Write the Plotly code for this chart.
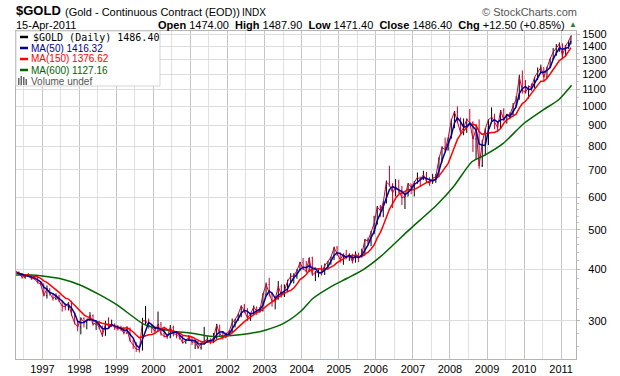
import numpy as np
import pandas as pd
import plotly.graph_objects as go

# ---------------- data (monthly bars) ----------------
open_ = [395, 393, 391, 383, 386, 387, 380, 380, 372,                      # 1996 Apr-Dec
         369, 346, 359, 350, 340, 345, 335, 326, 325, 332, 311, 296,       # 1997
         290, 304, 298, 301, 309, 294, 297, 289, 276, 295, 292, 294,       # 1998
         289, 287, 287, 280, 287, 268, 262, 256, 255, 300, 300, 292,       # 1999
         289, 283, 294, 279, 275, 274, 289, 279, 278, 274, 265, 269,       # 2000
         273, 266, 267, 258, 264, 268, 270, 266, 273, 293, 279, 274,       # 2001
         279, 282, 297, 302, 311, 326, 318, 305, 312, 324, 317, 318,       # 2002
         348, 368, 348, 335, 339, 364, 347, 355, 375, 385, 386, 398,       # 2003
         416, 402, 396, 427, 388, 394, 395, 391, 410, 418, 429, 452,       # 2004
         438, 423, 436, 428, 436, 418, 436, 430, 434, 473, 470, 495,       # 2005
         518, 569, 557, 583, 654, 644, 616, 636, 625, 599, 604, 648,       # 2006
         636, 652, 672, 663, 682, 657, 650, 668, 674, 745, 795, 784,       # 2007
         838, 926, 971, 918, 864, 888, 929, 914, 833, 881, 717, 815,       # 2008
         883, 928, 942, 917, 888, 978, 927, 954, 955, 1003, 1040, 1180,    # 2009
         1096, 1081, 1119, 1113, 1179, 1212, 1244, 1180, 1248, 1307, 1357, 1385,  # 2010
         1421, 1333, 1409, 1439]                                            # 2011 Jan-Apr
high = [397, 396, 392, 390, 392, 389, 386, 385, 375,
        370, 366, 360, 350, 350, 347, 336, 331, 333, 336, 314, 298,
        306, 306, 302, 315, 311, 300, 300, 292, 300, 306, 302, 296,
        293, 292, 290, 291, 289, 270, 266, 259, 305, 326, 304, 294,
        292, 316, 298, 290, 278, 293, 292, 281, 280, 276, 270, 277,
        274, 270, 268, 266, 290, 275, 272, 280, 295, 293, 283, 281,
        284, 304, 303, 312, 327, 330, 322, 314, 327, 325, 324, 350,
        372, 382, 352, 342, 375, 368, 368, 378, 392, 392, 401, 418,
        427, 420, 428, 430, 397, 400, 410, 414, 420, 430, 455, 457,
        441, 438, 447, 438, 437, 443, 440, 450, 475, 479, 497, 541,
        572, 575, 587, 660, 717, 650, 665, 663, 640, 612, 650, 648,
        658, 690, 674, 697, 692, 672, 685, 685, 752, 799, 840, 840,
        933, 975, 1001, 940, 935, 935, 986, 920, 905, 930, 830, 885,
        930, 995, 960, 917, 980, 990, 960, 968, 1020, 1060, 1195, 1225,
        1160, 1125, 1138, 1180, 1245, 1265, 1245, 1250, 1310, 1388, 1420, 1432,
        1424, 1412, 1448, 1488]
low = [391, 389, 380, 380, 385, 378, 378, 370, 366,
       344, 340, 346, 336, 337, 334, 316, 318, 318, 308, 294, 283,
       278, 289, 286, 300, 292, 285, 286, 274, 276, 287, 290, 285,
       284, 283, 278, 279, 267, 256, 252, 251, 254, 294, 287, 280,
       280, 282, 276, 273, 271, 272, 275, 272, 270, 264, 264, 268,
       262, 256, 256, 255, 263, 265, 263, 265, 271, 275, 270, 272,
       277, 280, 289, 300, 306, 313, 300, 300, 310, 310, 314, 316,
       345, 344, 325, 320, 338, 342, 343, 352, 371, 370, 380, 397,
       399, 393, 395, 387, 375, 383, 387, 388, 400, 411, 422, 432,
       416, 411, 424, 420, 414, 416, 417, 429, 433, 461, 456, 488,
       515, 538, 537, 580, 638, 565, 603, 613, 575, 562, 604, 611,
       603, 648, 637, 662, 652, 640, 648, 651, 672, 730, 775, 781,
       835, 885, 911, 857, 851, 862, 910, 775, 740, 705, 712, 760,
       805, 915, 880, 866, 883, 920, 908, 935, 952, 1000, 1040, 1075,
       1075, 1045, 1090, 1110, 1160, 1200, 1155, 1175, 1245, 1305, 1330, 1360,
       1310, 1325, 1383, 1417]
close = [393, 391, 383, 386, 387, 380, 380, 372, 369,
         346, 359, 350, 340, 345, 335, 326, 325, 332, 311, 296, 290,
         304, 298, 301, 309, 294, 297, 289, 276, 295, 292, 294, 289,
         287, 287, 280, 287, 268, 262, 256, 255, 300, 300, 292, 289,
         283, 294, 279, 275, 274, 289, 279, 278, 274, 265, 269, 273,
         266, 267, 258, 264, 268, 270, 266, 273, 293, 279, 274, 279,
         282, 297, 302, 311, 326, 318, 305, 312, 324, 317, 318, 348,
         368, 348, 335, 339, 364, 347, 355, 375, 385, 386, 398, 416,
         402, 396, 427, 388, 394, 395, 391, 410, 418, 429, 452, 438,
         423, 436, 428, 436, 418, 436, 430, 434, 473, 470, 495, 518,
         569, 557, 583, 654, 644, 616, 636, 625, 599, 604, 648, 636,
         652, 672, 663, 682, 657, 650, 668, 674, 745, 795, 784, 838,
         926, 971, 918, 864, 888, 929, 914, 833, 881, 717, 815, 883,
         928, 942, 917, 888, 978, 927, 954, 955, 1003, 1040, 1180, 1096,
         1081, 1119, 1113, 1179, 1212, 1244, 1180, 1248, 1307, 1357, 1385, 1421,
         1333, 1409, 1439, 1486.4]

# MA(600) (smooth green line)
ma600_dates = ["1996-04-16", "1996-09-01", "1997-01-01", "1997-07-01", "1998-01-07",
               "1998-07-22", "1999-01-07", "1999-09-20", "2000-01-07", "2000-07-12",
               "2001-01-04", "2001-07-12", "2002-01-15", "2002-07-20", "2003-01-15",
               "2003-07-20", "2004-01-01", "2004-04-20", "2004-10-05", "2005-03-24",
               "2005-08-30", "2006-02-10", "2006-07-01", "2006-11-25", "2007-08-24",
               "2008-02-05", "2008-08-05", "2008-12-15", "2009-06-10", "2010-01-01",
               "2010-07-08", "2010-12-05", "2011-04-15"]
ma600_vals = [388, 388, 386, 380, 367, 347, 328, 295, 289, 283,
              280, 275, 276, 279, 285, 297, 318, 340, 362, 381,
              400, 429, 462, 500, 575, 637, 733, 762, 813, 910,
              981, 1037, 1127.16]

y_tick_vals = [300, 400, 500, 600, 700, 800, 900, 1000, 1100, 1200, 1300, 1400, 1500]
y_tick_labels = ["300", "400", "500", "600", "700", "800", "900", "1000",
                 "1100", "1200", "1300", "1400", "1500"]
year_labels = [str(y) for y in range(1997, 2012)]

# ---------------- derived ----------------
dates = list(pd.date_range("1996-04-01", "2011-04-01", freq="MS") + pd.Timedelta(days=14))
dates[0] = pd.Timestamp("1996-04-24")
dates[-1] = pd.Timestamp("2011-04-08")
cs = pd.Series(close, dtype=float)
ma50 = cs.rolling(3, min_periods=1).mean()
ma150 = cs.rolling(8, min_periods=1).mean()

# right-align the value labels (pad 3-digit labels with a figure space)
y_tick_text = [("\u2007" + t) if len(t) < 4 else t for t in y_tick_labels]

# ---------------- geometry helpers ----------------
W, H = 620, 376
L, R, T, B = 16, 576, 31, 359
def px(x): return (x - L) / (R - L)
def py(y): return (B - y) / (B - T)

FONT = "Liberation Sans, Arial, sans-serif"

fig = go.Figure()
# thin close-to-close trace so the price reads as one continuous series
fig.add_trace(go.Scatter(x=dates, y=close, mode="lines",
                         line=dict(color="#cc0033", width=1),
                         hoverinfo="skip", showlegend=False))
fig.add_trace(go.Ohlc(x=dates, open=open_, high=high, low=low, close=close,
                      increasing=dict(line=dict(color="#000000", width=1)),
                      decreasing=dict(line=dict(color="#cc0033", width=1)),
                      tickwidth=0.3, hoverinfo="skip", showlegend=False))
fig.add_trace(go.Scatter(x=pd.to_datetime(ma600_dates), y=ma600_vals, mode="lines",
                         line=dict(color="#006400", width=1.5, shape="spline", smoothing=0.6),
                         hoverinfo="skip", showlegend=False))
fig.add_trace(go.Scatter(x=dates, y=ma150, mode="lines",
                         line=dict(color="#ff0000", width=1.5),
                         hoverinfo="skip", showlegend=False))
fig.add_trace(go.Scatter(x=dates, y=ma50, mode="lines",
                         line=dict(color="#000099", width=1.5),
                         hoverinfo="skip", showlegend=False))

shapes = []
# legend box
shapes.append(dict(type="rect", xref="paper", yref="paper", x0=px(16), x1=px(160),
                   y0=py(86), y1=py(31), fillcolor="white",
                   line=dict(color="#d4d4d4", width=1), layer="above"))
leg = [("#000000", 37), ("#000099", 48), ("#ff0000", 59), ("#006400", 70)]
for col, yy in leg:
    shapes.append(dict(type="line", xref="paper", yref="paper", x0=px(20), x1=px(28),
                       y0=py(yy), y1=py(yy), line=dict(color=col, width=2.5), layer="above"))
# small volume icon
for x0, x1, top in [(18, 19.5, 78), (20.5, 22, 76), (23, 24.5, 77), (25.5, 27, 79)]:
    shapes.append(dict(type="rect", xref="paper", yref="paper", x0=px(x0), x1=px(x1),
                       y0=py(85), y1=py(top), fillcolor="#666666", line=dict(width=0),
                       layer="above"))

ann = []
def A(text, x, y, size=11, color="#000000", anchor="left", family=FONT):
    ann.append(dict(text=text, x=px(x), y=py(y), xref="paper", yref="paper",
                    xanchor=anchor, yanchor="middle", showarrow=False,
                    font=dict(family=family, size=size, color=color)))

A("<b>$GOLD</b>", 14, 11, size=13)
A("(Gold - Continuous Contract (EOD))", 63, 12, size=11)
A("INDX", 240, 12, size=10)
A("© StockCharts.com", 579, 12, size=11, color="#555555", anchor="right")
A("15-Apr-2011", 14, 24.5, size=11)
A("<b>Open</b> 1474.00  <b>High</b> 1487.90  <b>Low</b> 1471.40  <b>Close</b> 1486.40  "
  "<b>Chg</b> +12.50 (+0.85%)", 567, 24.5, size=11, anchor="right")
A("▲", 579, 24.5, size=8, color="#2e7d32", anchor="right")
A("$GOLD (Daily) 1486.40", 31, 37, size=10, family="DejaVu Sans Mono, monospace")
A("MA(50) 1416.32", 29, 48, size=10, color="#000099")
A("MA(150) 1376.62", 29, 59, size=10, color="#ff0000")
A("MA(600) 1127.16", 29, 70, size=10, color="#006400")
A("Volume undef", 28.5, 81, size=10, color="#555555")

minor_y = [260, 280, 320, 340, 360, 380, 420, 440, 460, 480, 520, 540, 560, 580,
           650, 750, 850, 950, 1050, 1150, 1250, 1350, 1450]

fig.update_layout(
    width=W, height=H, autosize=False,
    margin=dict(l=L, r=W - R, t=T, b=H - B, pad=0, autoexpand=False),
    paper_bgcolor="white", plot_bgcolor="white",
    showlegend=False, shapes=shapes, annotations=ann,
    font=dict(family=FONT, size=11, color="#000000"),
    xaxis=dict(type="date", range=["1996-04-16", "2011-05-28"], automargin=False,
               rangeslider=dict(visible=False),
               tickmode="array",
               tickvals=[pd.Timestamp(f"{y}-01-01") for y in year_labels],
               ticktext=year_labels, ticks="", showgrid=True, gridcolor="#c4c4c4",
               gridwidth=1, showline=True, mirror=True, linecolor="#b4b4b4",
               linewidth=1, zeroline=False, tickfont=dict(size=11),
               minor=dict(tickmode="array",
                          tickvals=[pd.Timestamp(f"{y}-07-01") for y in range(1996, 2011)],
                          showgrid=True, gridcolor="#e0e0e0", ticks="")),
    yaxis=dict(type="log", range=[np.log10(242.1), np.log10(1528)], side="right",
               automargin=False,
               tickmode="array", tickvals=y_tick_vals, ticktext=y_tick_text,
               showgrid=True, gridcolor="#dcdcdc", ticks="outside", ticklen=3,
               tickcolor="#b4b4b4", showline=True, mirror=True, linecolor="#b4b4b4",
               linewidth=1, zeroline=False, tickfont=dict(size=11),
               minor=dict(tickmode="array", tickvals=minor_y, ticks="outside",
                          ticklen=2, tickcolor="#c8c8c8", showgrid=False)),
)

fig.write_html("out.html", config={"displayModeBar": False},
               post_script="document.body.style.margin='0';document.body.style.overflow='hidden';")
